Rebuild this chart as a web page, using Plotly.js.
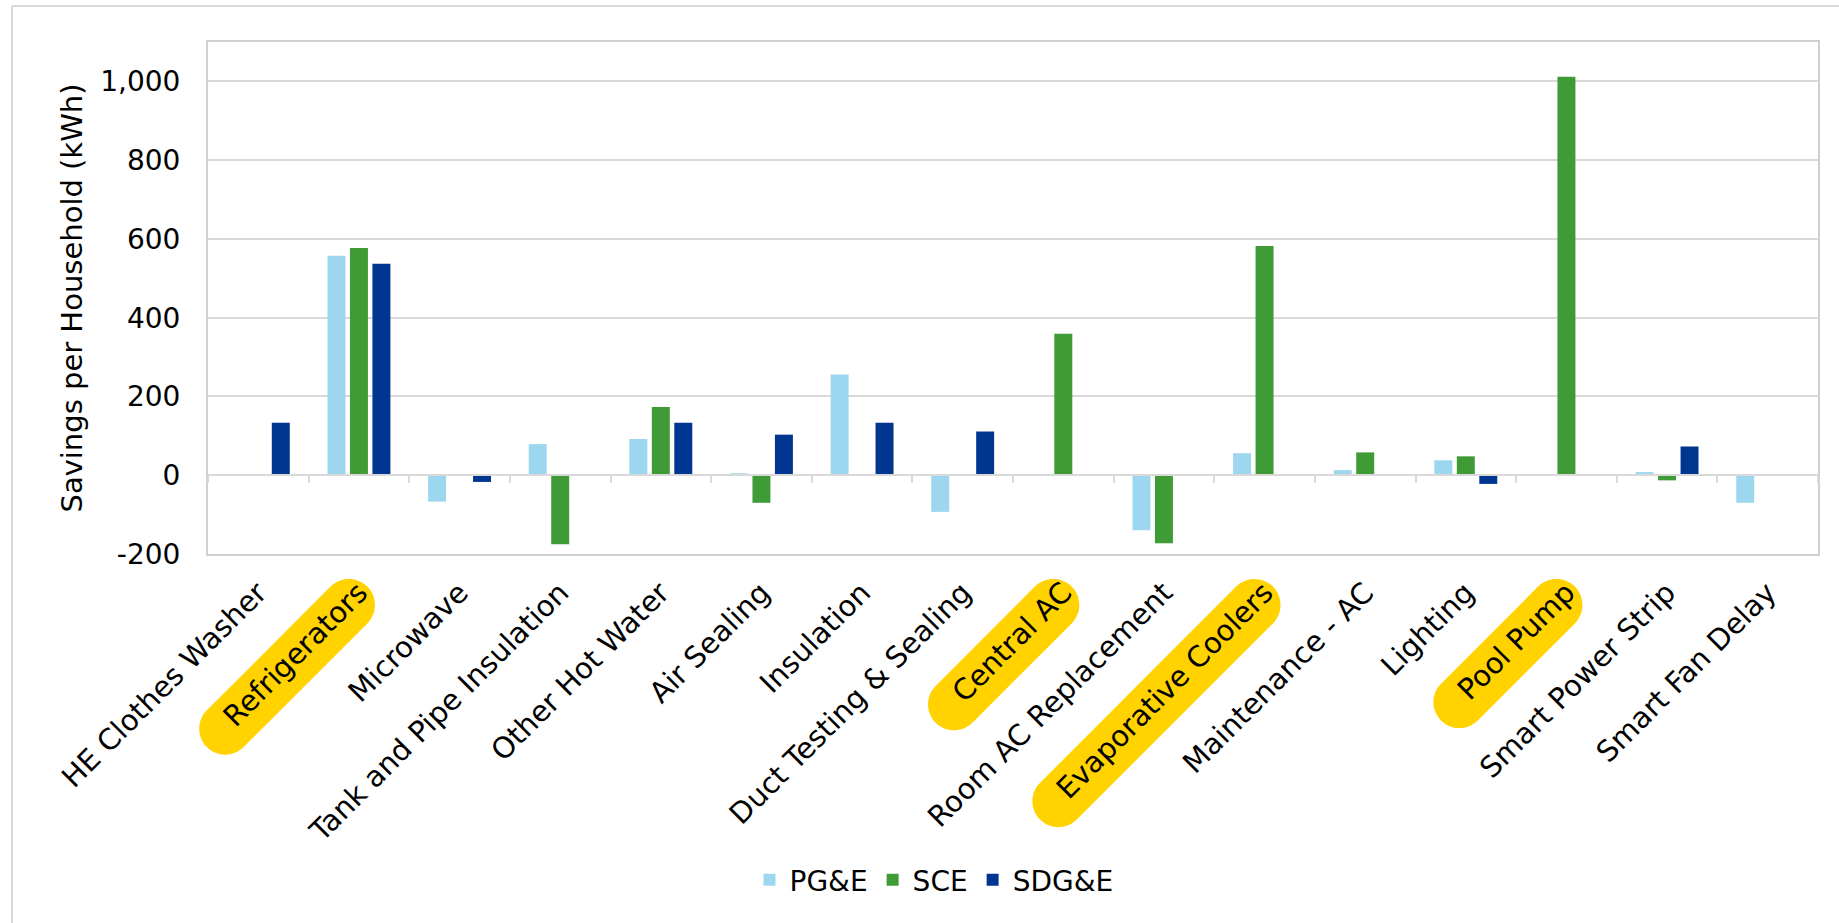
<!DOCTYPE html>
<html>
<head>
<meta charset="utf-8">
<script src="https://cdn.plot.ly/plotly-3.0.1.min.js"></script>
<style>html,body{margin:0;padding:0;background:#fff;}#chart{width:1839px;height:923px;}</style>
</head>
<body>
<div id="chart"></div>
<script>
// ---- data ----
const categories = ['HE Clothes Washer', 'Refrigerators', 'Microwave', 'Tank and Pipe Insulation',
  'Other Hot Water', 'Air Sealing', 'Insulation', 'Duct Testing & Sealing', 'Central AC',
  'Room AC Replacement', 'Evaporative Coolers', 'Maintenance - AC', 'Lighting', 'Pool Pump',
  'Smart Power Strip', 'Smart Fan Delay'];
const seriesNames = ['PG&E', 'SCE', 'SDG&E'];
const pge  = [null, 557, -67, 79, 92, 5, 256, -93, null, -140, 56, 13, 38, null, 8, -70];
const sce  = [null, 577, null, -175, 173, -70, null, null, 359, -173, 582, 58, 48, 1012, -13, null];
const sdge = [133, 537, -17, null, 133, 103, 133, 111, null, null, null, null, -22, null, 73, null];
const highlighted = ['Refrigerators', 'Central AC', 'Evaporative Coolers', 'Pool Pump'];
const yTickVals = [-200, 0, 200, 400, 600, 800, 1000];
const yTickText = ['-200', '0', '200', '400', '600', '800', '1,000'];
const yTitle = 'Savings per Household (kWh)';

// ---- style ----
const W = 1839, H = 923;
const M = {l: 208, r: 21, t: 42, b: 369};
const PW = W - M.l - M.r, PH = H - M.t - M.b;
const FONT = '"DejaVu Sans", Verdana, sans-serif';
const colors = ['#9dd7ef', '#3f9b35', '#003590'];
const GRID = '#d9d9d9';
const yRange = [-200, 1100];
const xRange = [-0.5, categories.length - 0.5];

const px2x = p => (p - M.l) / PW;
const py2y = p => (M.t + PH - p) / PH;

const traces = [pge, sce, sdge].map((vals, i) => ({
  type: 'bar', name: seriesNames[i], x: categories, y: vals,
  marker: {color: colors[i], line: {width: 0}},
  hoverinfo: 'skip'
}));
// invisible trace carrying the zero-line axis (x2) with category tick marks
traces.push({type: 'scatter', mode: 'markers', x: categories, y: categories.map(() => null),
  xaxis: 'x2', yaxis: 'y', showlegend: false, hoverinfo: 'skip'});

// highlight capsules behind some labels
const ctx = document.createElement('canvas').getContext('2d');
ctx.font = '29px ' + FONT;
function capsulePath(len, r, ex, ey) {
  // from end center (ex,ey) going down-left (pixel coords, y up)
  const d = [-Math.SQRT1_2, -Math.SQRT1_2];
  const n = [Math.SQRT1_2, -Math.SQRT1_2];
  const k = 0.5523;
  const P = (u, v) => (ex + u * d[0] + v * n[0]).toFixed(1) + ',' + (ey + u * d[1] + v * n[1]).toFixed(1);
  return 'M' + P(0, -r) + 'L' + P(len, -r) +
    'C' + P(len + k * r, -r) + ' ' + P(len + r, -k * r) + ' ' + P(len + r, 0) +
    'C' + P(len + r, k * r) + ' ' + P(len + k * r, r) + ' ' + P(len, r) +
    'L' + P(0, r) +
    'C' + P(-k * r, r) + ' ' + P(-r, k * r) + ' ' + P(-r, 0) +
    'C' + P(-r, -k * r) + ' ' + P(-k * r, -r) + ' ' + P(0, -r) + 'Z';
}
const shapes = highlighted.map(lbl => {
  const idx = categories.indexOf(lbl);
  const L = ctx.measureText(lbl).width;
  return {
    type: 'path', xref: 'paper', yref: 'paper', xsizemode: 'pixel', ysizemode: 'pixel',
    xanchor: (idx - xRange[0]) / (xRange[1] - xRange[0]), yanchor: 0,
    path: capsulePath(L - 14, 26, -10, -51),
    fillcolor: '#FFD200', line: {width: 0}, layer: 'below'
  };
});
// outer frame (left and top edges)
shapes.push({type: 'line', xref: 'paper', yref: 'paper', x0: px2x(12), x1: px2x(12), y0: py2y(6), y1: py2y(H + 5),
  line: {color: GRID, width: 2}, layer: 'below'});
shapes.push({type: 'line', xref: 'paper', yref: 'paper', x0: px2x(12), x1: px2x(W + 5), y0: py2y(6), y1: py2y(6),
  line: {color: GRID, width: 2}, layer: 'below'});

const layout = {
  width: W, height: H,
  margin: M,
  paper_bgcolor: '#ffffff', plot_bgcolor: '#ffffff',
  font: {family: FONT, color: '#000000', size: 28},
  barmode: 'group', bargap: 0.33, bargroupgap: 0.2,
  showlegend: true,
  legend: {orientation: 'h', x: px2x(934), xanchor: 'center', y: py2y(880), yanchor: 'middle',
    font: {size: 28, color: '#000'}, itemwidth: 30},
  xaxis: {
    type: 'category', range: xRange, domain: [0, 1],
    tickangle: -45, tickfont: {size: 29, color: '#000'}, ticklabelstandoff: 8,
    ticks: '', showgrid: false, zeroline: false,
    showline: true, mirror: true, linecolor: '#d0d0d0', linewidth: 2
  },
  xaxis2: {
    type: 'category', range: xRange, overlaying: 'x', anchor: 'free',
    position: (0 - yRange[0]) / (yRange[1] - yRange[0]),
    showticklabels: false, ticks: 'outside', tickson: 'boundaries', ticklen: 7,
    tickcolor: GRID, tickwidth: 2, showgrid: false, zeroline: false,
    showline: true, linecolor: GRID, linewidth: 2
  },
  yaxis: {
    range: yRange, tickvals: yTickVals, ticktext: yTickText,
    tickfont: {size: 28, color: '#000'},
    showgrid: true, gridcolor: GRID, gridwidth: 2, zeroline: false,
    showline: true, mirror: true, linecolor: '#d0d0d0', linewidth: 2,
    ticks: '', ticklabelstandoff: 20,
    title: {text: yTitle, font: {size: 29, color: '#000'}, standoff: 9}
  },
  shapes: shapes
};

Plotly.newPlot('chart', traces, layout, {staticPlot: true, displayModeBar: false});
</script>
</body>
</html>
